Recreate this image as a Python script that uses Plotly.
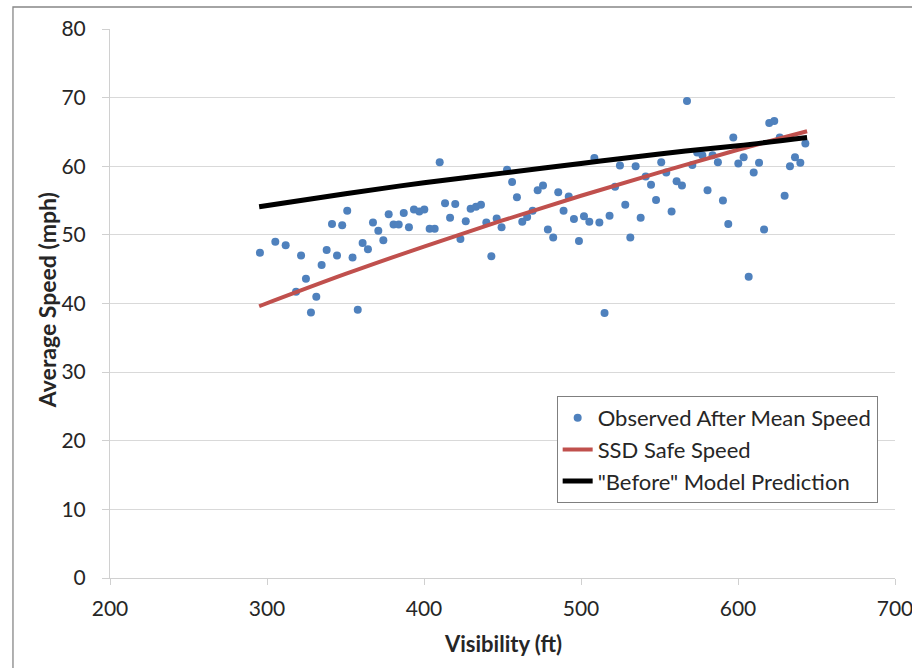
import plotly.graph_objects as go

# Observed after mean speed (scatter)
obs_visibility = [
    295.5, 305.3, 311.9, 318.5, 321.7, 324.8, 328.0, 331.4, 334.8, 338.0,
    341.4, 344.6, 347.9, 351.1, 354.5, 357.8, 360.9, 364.3, 367.5, 370.9,
    374.1, 377.5, 380.6, 383.9, 387.1, 390.4, 393.6, 397.0, 400.2, 403.6,
    406.8, 410.0, 413.4, 416.6, 419.9, 423.2, 426.6, 429.7, 433.1, 436.3,
    439.7, 442.9, 446.3, 449.4, 452.9, 456.1, 459.2, 462.6, 465.7, 469.2,
    472.4, 475.8, 478.9, 482.3, 485.5, 488.9, 492.2, 495.5, 498.7, 501.9,
    505.3, 508.5, 511.7, 515.0, 518.2, 521.7, 524.8, 528.2, 531.4, 534.8,
    538.0, 541.2, 544.6, 547.8, 551.1, 554.3, 557.7, 560.9, 564.3, 567.5,
    570.9, 574.0, 577.3, 580.6, 583.8, 587.2, 590.4, 593.8, 597.0, 600.2,
    603.6, 606.8, 610.0, 613.4, 616.6, 619.9, 623.1, 626.6, 629.7, 633.1,
    636.3, 639.7, 642.9,
]
obs_speed = [
    47.4, 49.0, 48.5, 41.7, 47.0, 43.6, 38.7, 41.0, 45.6, 47.8,
    51.6, 47.0, 51.4, 53.5, 46.7, 39.1, 48.8, 47.9, 51.8, 50.6,
    49.2, 53.0, 51.5, 51.5, 53.2, 51.1, 53.7, 53.4, 53.7, 50.9,
    50.9, 60.6, 54.6, 52.5, 54.5, 49.4, 52.0, 53.8, 54.1, 54.4,
    51.8, 46.9, 52.4, 51.1, 59.5, 57.7, 55.5, 51.9, 52.6, 53.5,
    56.5, 57.2, 50.8, 49.6, 56.2, 53.5, 55.6, 52.3, 49.1, 52.7,
    51.9, 61.2, 51.8, 38.6, 52.8, 57.0, 60.1, 54.4, 49.6, 60.0,
    52.5, 58.5, 57.3, 55.1, 60.6, 59.1, 53.4, 57.8, 57.2, 69.5,
    60.2, 62.0, 61.6, 56.5, 61.6, 60.6, 55.0, 51.6, 64.2, 60.4,
    61.3, 43.9, 59.1, 60.5, 50.8, 66.3, 66.6, 64.2, 55.7, 60.0,
    61.3, 60.5, 63.3,
]

# SSD safe speed (red line)
ssd_visibility = [295, 350, 400, 450, 500, 550, 600, 644]
ssd_speed = [39.6, 44.3, 48.3, 52.1, 55.7, 59.1, 62.4, 65.1]

# "Before" model prediction (black line)
before_visibility = [295, 350, 400, 450, 500, 550, 600, 644]
before_speed = [54.1, 56.0, 57.6, 59.0, 60.4, 61.8, 63.0, 64.2]

x_ticks = [200, 300, 400, 500, 600, 700]
y_ticks = [0, 10, 20, 30, 40, 50, 60, 70, 80]

FONT = "Lato, Carlito, Calibri, sans-serif"
TXT = "#262626"

fig = go.Figure()
fig.add_trace(go.Scatter(
    x=obs_visibility, y=obs_speed, mode="markers",
    name="Observed After Mean Speed", legendgroup="a",
    marker=dict(color="#4F81BD", size=8),
))
fig.add_trace(go.Scatter(
    x=ssd_visibility, y=ssd_speed, mode="lines",
    name="SSD Safe Speed", legendgroup="b",
    line=dict(color="#C0504D", width=4, shape="spline"),
))
fig.add_trace(go.Scatter(
    x=before_visibility, y=before_speed, mode="lines",
    name="\"Before\" Model Prediction", legendgroup="c",
    line=dict(color="#000000", width=5, shape="spline"),
))

fig.update_layout(
    width=912, height=668,
    margin=dict(l=110, r=17, t=29, b=90, autoexpand=False),
    paper_bgcolor="white", plot_bgcolor="white",
    font=dict(family=FONT, size=21, color=TXT),
    showlegend=True,
    legend=dict(
        x=0.569, y=0.3315, xanchor="left", yanchor="top",
        bgcolor="white", bordercolor="#7F7F7F", borderwidth=1,
        font=dict(size=22, color=TXT),
        itemwidth=30, tracegroupgap=0, traceorder="grouped",
    ),
    xaxis=dict(
        range=[200, 700], tickvals=x_ticks, ticktext=[str(v) for v in x_ticks],
        showgrid=False, zeroline=False, automargin=False,
        showline=True, linecolor="#D0D0D0", linewidth=1,
        ticks="outside", ticklen=6, tickcolor="#D0D0D0",
        ticklabelstandoff=6, ticklabeloverflow="allow",
        tickfont=dict(size=21, color=TXT),
    ),
    yaxis=dict(
        range=[0, 80], tickvals=y_ticks, ticktext=[str(v) for v in y_ticks],
        showgrid=True, gridcolor="#D9D9D9", gridwidth=1.3, zeroline=False,
        automargin=False,
        showline=True, linecolor="#D0D0D0", linewidth=1,
        ticks="outside", ticklen=7, tickcolor="#D0D0D0",
        ticklabelstandoff=12, ticklabeloverflow="allow",
        tickfont=dict(size=21, color=TXT),
    ),
    annotations=[
        dict(text="<b>Visibility (ft)</b>", xref="paper", yref="paper",
             x=0.5, y=-0.1184, xanchor="center", yanchor="middle",
             showarrow=False, font=dict(size=22, color=TXT)),
        dict(text="<b>Average Speed (mph)</b>", xref="paper", yref="paper",
             x=-0.0803, y=0.506, xanchor="center", yanchor="middle",
             textangle=-90, showarrow=False, font=dict(size=23, color=TXT)),
    ],
    shapes=[dict(
        type="rect", xref="paper", yref="paper",
        x0=-0.1236, y0=-0.3, x1=1.2, y1=1.0401,
        line=dict(color="#878787", width=1.3), fillcolor="rgba(0,0,0,0)",
        layer="below",
    )],
)

fig.write_html("out.html")
